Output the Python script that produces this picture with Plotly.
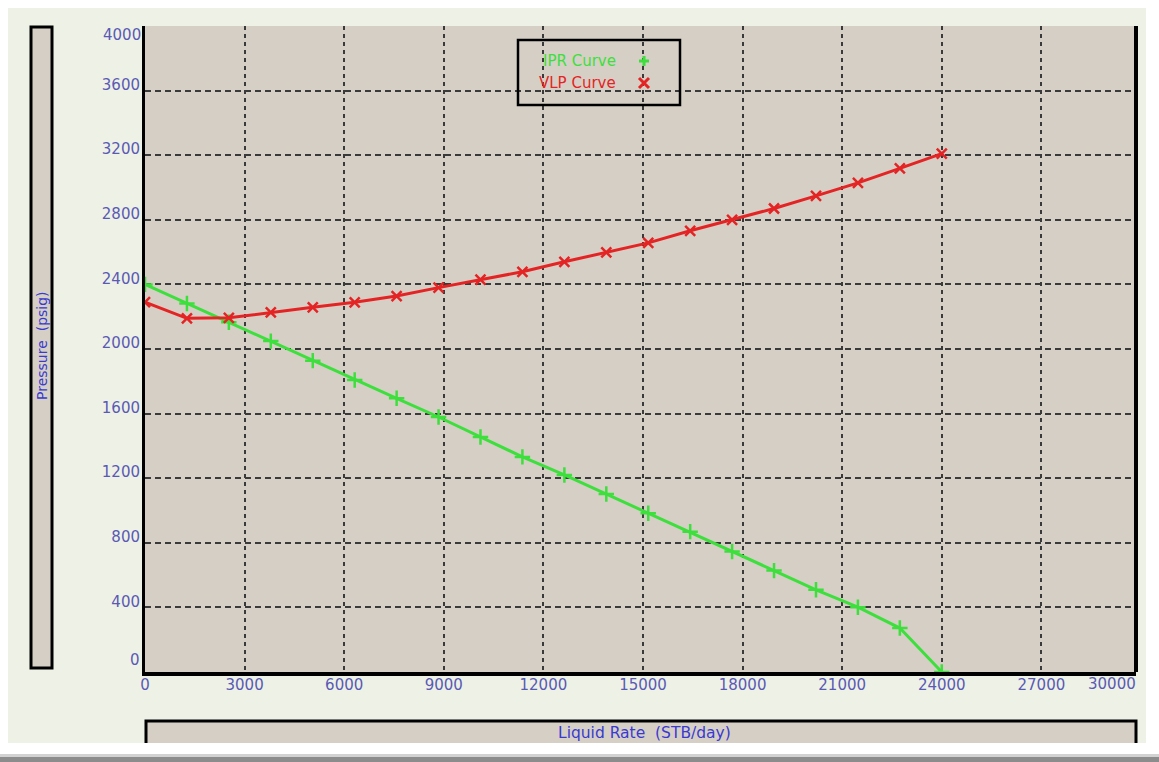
import plotly.graph_objects as go

# Liquid rate grid (STB/day) shared by both curves
liquid_rate = [0, 1263, 2526, 3789, 5053, 6316, 7579, 8842, 10105, 11368,
               12632, 13895, 15158, 16421, 17684, 18947, 20211, 21474, 22737, 24000]

# Inflow performance relationship (psig)
ipr_pressure = [2400, 2282, 2166, 2049, 1928, 1808, 1695, 1579, 1455, 1332,
                1220, 1102, 983, 869, 746, 628, 509, 401, 272, 0]

# Vertical lift performance (psig)
vlp_pressure = [2290, 2190, 2193, 2227, 2258, 2289, 2328, 2380, 2430, 2478,
                2540, 2598, 2657, 2732, 2800, 2870, 2948, 3029, 3118, 3210]

x_ticks = [0, 3000, 6000, 9000, 12000, 15000, 18000, 21000, 24000, 27000]
y_ticks = [400, 800, 1200, 1600, 2000, 2400, 2800, 3200, 3600]

W, H = 1159, 762
L, R, T, B = 145, 1136, 26, 672

PLOT_BG = "#d6cfc5"
PANEL_BG = "#edf1e6"
LABEL_BLUE = "#5a5ab4"
TITLE_BLUE = "#3a3ad0"
GREEN = "#3ddf3d"
RED = "#e42424"
FONT = "DejaVu Sans"


def fx(px):
    return (px - L) / (R - L)


def fy(py):
    return (B - py) / (B - T)


fig = go.Figure()

fig.add_trace(go.Scatter(
    x=liquid_rate, y=ipr_pressure, mode="lines+markers", name="IPR Curve",
    line=dict(color=GREEN, width=3),
    marker=dict(symbol="cross-thin", size=11, line=dict(color=GREEN, width=2.5)),
))
fig.add_trace(go.Scatter(
    x=liquid_rate, y=vlp_pressure, mode="lines+markers", name="VLP Curve",
    line=dict(color=RED, width=3),
    marker=dict(symbol="x-thin", size=10, line=dict(color=RED, width=2.5)),
))

shapes = []
# white frame around the panel
for x0, y0, x1, y1 in [(0, 0, W, 8), (0, 0, 8, H), (1146, 0, W, H), (0, 743, W, H)]:
    shapes.append(dict(type="rect", xref="paper", yref="paper", layer="below",
                       x0=fx(x0), x1=fx(x1), y0=fy(y0), y1=fy(y1),
                       fillcolor="white", line=dict(width=0)))
# shadow strip at the bottom
shapes.append(dict(type="rect", xref="paper", yref="paper", layer="below",
                   x0=fx(0), x1=fx(W), y0=fy(757), y1=fy(H),
                   fillcolor="#8c8c8c", line=dict(width=0)))
shapes.append(dict(type="rect", xref="paper", yref="paper", layer="below",
                   x0=fx(0), x1=fx(W), y0=fy(754), y1=fy(757),
                   fillcolor="#d2d2d2", line=dict(width=0)))
# y title box
shapes.append(dict(type="rect", xref="paper", yref="paper", layer="above",
                   x0=fx(31), x1=fx(52), y0=fy(27), y1=fy(668),
                   fillcolor=PLOT_BG, line=dict(color="black", width=3)))
# x title box (open at the bottom)
bx0, bx1, by0, by1 = fx(146), fx(1136), fy(721), fy(743)
shapes.append(dict(type="path", xref="paper", yref="paper", layer="above",
                   path=f"M {bx0},{by1} L {bx0},{by0} L {bx1},{by0} L {bx1},{by1} Z",
                   fillcolor=PLOT_BG, line=dict(width=0)))
shapes.append(dict(type="path", xref="paper", yref="paper", layer="above",
                   path=f"M {bx0},{by1} L {bx0},{by0} L {bx1},{by0} L {bx1},{by1}",
                   line=dict(color="black", width=3)))
# right border of the plot
shapes.append(dict(type="line", xref="paper", yref="paper", layer="above",
                   x0=1, x1=1, y0=0, y1=1, line=dict(color="black", width=4)))
# legend box
shapes.append(dict(type="rect", xref="paper", yref="paper", layer="above",
                   x0=fx(518), x1=fx(680), y0=fy(40), y1=fy(105),
                   line=dict(color="black", width=2.5)))
# legend keys: plus and cross
cx, cy1, cy2, s = 644, 61, 83, 5
shapes.append(dict(type="path", xref="paper", yref="paper", layer="above",
                   path=f"M {fx(cx - s)},{fy(cy1)} L {fx(cx + s)},{fy(cy1)} "
                        f"M {fx(cx)},{fy(cy1 - s)} L {fx(cx)},{fy(cy1 + s)}",
                   line=dict(color=GREEN, width=3)))
shapes.append(dict(type="path", xref="paper", yref="paper", layer="above",
                   path=f"M {fx(cx - s)},{fy(cy2 - s)} L {fx(cx + s)},{fy(cy2 + s)} "
                        f"M {fx(cx - s)},{fy(cy2 + s)} L {fx(cx + s)},{fy(cy2 - s)}",
                   line=dict(color=RED, width=3)))

annotations = [
    dict(text="IPR Curve", x=fx(618), y=fy(61), xanchor="right", yanchor="middle",
         font=dict(family=FONT, size=15, color=GREEN)),
    dict(text="VLP Curve", x=fx(618), y=fy(83), xanchor="right", yanchor="middle",
         font=dict(family=FONT, size=15, color=RED)),
    dict(text="Liquid Rate\u00a0 (STB/day)", x=fx(644), y=fy(733),
         xanchor="center", yanchor="middle",
         font=dict(family=FONT, size=15.5, color=TITLE_BLUE)),
    dict(text="Pressure\u00a0 (psig)", x=fx(42), y=fy(346), textangle=-90,
         xanchor="center", yanchor="middle",
         font=dict(family=FONT, size=14, color=TITLE_BLUE)),
    dict(text="4000", x=fx(143), y=fy(35), xanchor="right", yanchor="middle",
         font=dict(family=FONT, size=15, color=LABEL_BLUE)),
    dict(text="0", x=fx(142), y=fy(660), xanchor="right", yanchor="middle",
         font=dict(family=FONT, size=15, color=LABEL_BLUE)),
    dict(text="30000", x=fx(1112), y=fy(684), xanchor="center", yanchor="middle",
         font=dict(family=FONT, size=15, color=LABEL_BLUE)),
]
for a in annotations:
    a.update(xref="paper", yref="paper", showarrow=False)

fig.update_layout(
    width=W, height=H,
    margin=dict(l=L, r=W - R, t=T, b=H - B, pad=0),
    paper_bgcolor=PANEL_BG,
    plot_bgcolor=PLOT_BG,
    showlegend=False,
    shapes=shapes,
    annotations=annotations,
    font=dict(family=FONT, size=15, color=LABEL_BLUE),
)
fig.update_xaxes(
    range=[0, 29850], tickvals=x_ticks, ticktext=[str(v) for v in x_ticks],
    showgrid=True, gridcolor="#3a3a3a", gridwidth=1.5, griddash="4px,4px",
    showline=True, linecolor="black", linewidth=4,
    zeroline=False, ticks="", ticklabelstandoff=-4,
    tickfont=dict(family=FONT, size=15, color=LABEL_BLUE),
)
fig.update_yaxes(
    range=[0, 4000], tickvals=y_ticks, ticktext=[str(v) for v in y_ticks],
    showgrid=True, gridcolor="#3a3a3a", gridwidth=1.5, griddash="6px,4px",
    showline=True, linecolor="black", linewidth=3,
    zeroline=False, ticks="", ticklabelshift=-6, ticklabelstandoff=-1,
    tickfont=dict(family=FONT, size=15, color=LABEL_BLUE),
)

fig.write_html("out.html")
